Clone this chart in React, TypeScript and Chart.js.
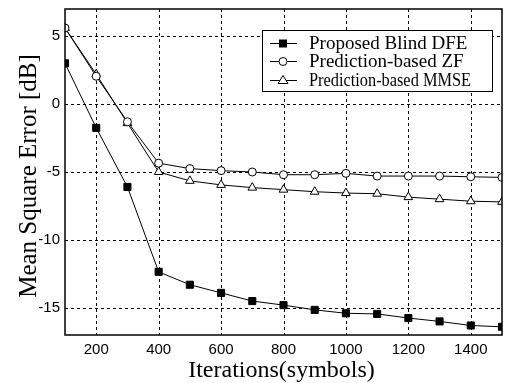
import React, { useEffect, useRef } from "react";
import Chart from "chart.js/auto";

const iterations = [100, 200, 300, 400, 500, 600, 700, 800, 900, 1000, 1100, 1200, 1300, 1400, 1500];
const blindDFE = [3.0, -1.75, -6.1, -12.35, -13.3, -13.9, -14.5, -14.8, -15.15, -15.4, -15.45, -15.75, -16.0, -16.3, -16.4];
const predZF = [5.6, 2.05, -1.3, -4.35, -4.75, -4.9, -5.0, -5.2, -5.2, -5.1, -5.3, -5.3, -5.3, -5.35, -5.4];
const predMMSE = [5.6, 2.2, -1.4, -5.0, -5.65, -5.95, -6.15, -6.3, -6.45, -6.55, -6.6, -6.85, -7.0, -7.15, -7.2];
const seriesNames = ["Proposed Blind DFE", "Prediction-based ZF", "Prediction-based MMSE"];
const xTicks = [200, 400, 600, 800, 1000, 1200, 1400];
const yTicks = [-15, -10, -5, 0, 5];
const xTitle = "Iterations(symbols)";
const yTitle = "Mean Square Error [dB]";

const SERIF = '"Liberation Serif", "Times New Roman", serif';
const SANS = '"Liberation Sans", Arial, sans-serif';

const gridPlugin = {
  id: "dashGrid",
  beforeDatasetsDraw(chart: any) {
    const { left, right, top, bottom } = chart.chartArea;
    const ctx = chart.ctx;
    const xs = chart.scales.x, ys = chart.scales.y;
    ctx.save();
    ctx.strokeStyle = "#000";
    ctx.lineWidth = 1;
    ctx.setLineDash([3, 3]);
    xTicks.forEach((v) => {
      const px = Math.round(xs.getPixelForValue(v)) + 0.5;
      ctx.beginPath();
      ctx.moveTo(px, top);
      ctx.lineTo(px, bottom);
      ctx.stroke();
    });
    yTicks.forEach((v) => {
      const py = Math.round(ys.getPixelForValue(v)) + 0.5;
      ctx.beginPath();
      ctx.moveTo(left, py);
      ctx.lineTo(right, py);
      ctx.stroke();
    });
    ctx.restore();
  },
  afterDraw(chart: any) {
    const { left, right, top, bottom } = chart.chartArea;
    const ctx = chart.ctx;
    ctx.save();
    ctx.strokeStyle = "#000";
    ctx.lineWidth = 1.5;
    ctx.setLineDash([]);
    ctx.strokeRect(left, top, right - left, bottom - top);
    ctx.fillStyle = "#000";
    ctx.font = "24px " + SERIF;
    ctx.textAlign = "center";
    ctx.textBaseline = "alphabetic";
    ctx.fillText(xTitle, (left + right) / 2 - 2, 377);
    ctx.translate(36, 176);
    ctx.rotate(-Math.PI / 2);
    ctx.font = "25px " + SERIF;
    ctx.fillText(yTitle, 0, 0);
    ctx.restore();
  },
};

const legendPlugin = {
  id: "boxLegend",
  afterDatasetsDraw(chart: any) {
    const ctx = chart.ctx;
    const x0 = 262, y0 = 30, w = 230, h = 61;
    ctx.save();
    ctx.fillStyle = "#fff";
    ctx.fillRect(x0, y0, w, h);
    ctx.strokeStyle = "#000";
    ctx.lineWidth = 1;
    ctx.setLineDash([]);
    ctx.strokeRect(x0 + 0.5, y0 + 0.5, w, h);
    const rows = [43, 61, 80];
    chart.data.datasets.forEach((ds: any, i: number) => {
      const y = rows[i] + 0.5;
      ctx.beginPath();
      ctx.moveTo(270, y);
      ctx.lineTo(297, y);
      ctx.strokeStyle = "#000";
      ctx.lineWidth = 1;
      ctx.stroke();
      ctx.beginPath();
      const cx = 283;
      ctx.fillStyle = ds.pointBackgroundColor;
      if (ds.pointStyle === "rect") {
        ctx.fillRect(cx - 4, y - 4, 8, 8);
      } else if (ds.pointStyle === "circle") {
        ctx.arc(cx, y, 4, 0, Math.PI * 2);
        ctx.fill();
        ctx.stroke();
      } else {
        ctx.moveTo(cx, y - 5);
        ctx.lineTo(cx + 5, y + 3);
        ctx.lineTo(cx - 5, y + 3);
        ctx.closePath();
        ctx.fill();
        ctx.stroke();
      }
      ctx.fillStyle = "#000";
      ctx.font = "19px " + SERIF;
      ctx.textBaseline = "middle";
      ctx.textAlign = "left";
      ctx.fillText(seriesNames[i], 309, y + 1, 162);
    });
    ctx.restore();
  },
};

export default function App() {
  const ref = useRef<HTMLCanvasElement>(null);
  useEffect(() => {
    document.body.style.margin = "0";
    const mk = (label: string, data: number[], style: string, fill: string, r: number) => ({
      label,
      data: iterations.map((x, i) => ({ x, y: data[i] })),
      borderColor: "#000",
      borderWidth: 1,
      pointStyle: style,
      pointRadius: r,
      pointBackgroundColor: fill,
      pointBorderColor: "#000",
      pointBorderWidth: 1,
      tension: 0,
    });
    const chart = new Chart(ref.current!, {
      type: "line",
      data: {
        datasets: [
          mk(seriesNames[0], blindDFE, "rect", "#000", 5),
          mk(seriesNames[1], predZF, "circle", "#fff", 4),
          mk(seriesNames[2], predMMSE, "triangle", "#fff", 5),
        ] as any,
      },
      options: {
        animation: false,
        responsive: false,
        layout: { padding: { top: 9, right: 3, left: 0, bottom: 0 } },
        plugins: { legend: { display: false }, tooltip: { enabled: false } },
        scales: {
          x: {
            type: "linear",
            min: 100,
            max: 1500,
            afterBuildTicks: (s: any) => { s.ticks = xTicks.map((v) => ({ value: v })); },
            afterFit: (s: any) => { s.height = 48; s.paddingLeft = 0; s.paddingRight = 0; },
            grid: { display: false, drawTicks: false },
            border: { display: false },
            ticks: { color: "#000", font: { family: SANS, size: 15 }, padding: 6, maxRotation: 0, callback: (v: any) => String(v) },
          },
          y: {
            type: "linear",
            min: -17,
            max: 7,
            afterBuildTicks: (s: any) => { s.ticks = yTicks.map((v) => ({ value: v })); },
            afterFit: (s: any) => { s.width = 65; s.paddingTop = 0; s.paddingBottom = 0; },
            grid: { display: false, drawTicks: false },
            border: { display: false },
            ticks: { color: "#000", font: { family: SANS, size: 15 }, padding: 5, callback: (v: any) => String(v) },
          },
        },
      } as any,
      plugins: [gridPlugin, legendPlugin],
    });
    return () => chart.destroy();
  }, []);
  return (
    <div style={{ position: "absolute", left: 0, top: 0, width: 508, height: 383, background: "#fff" }}>
      <canvas ref={ref} width={508} height={383} />
    </div>
  );
}
